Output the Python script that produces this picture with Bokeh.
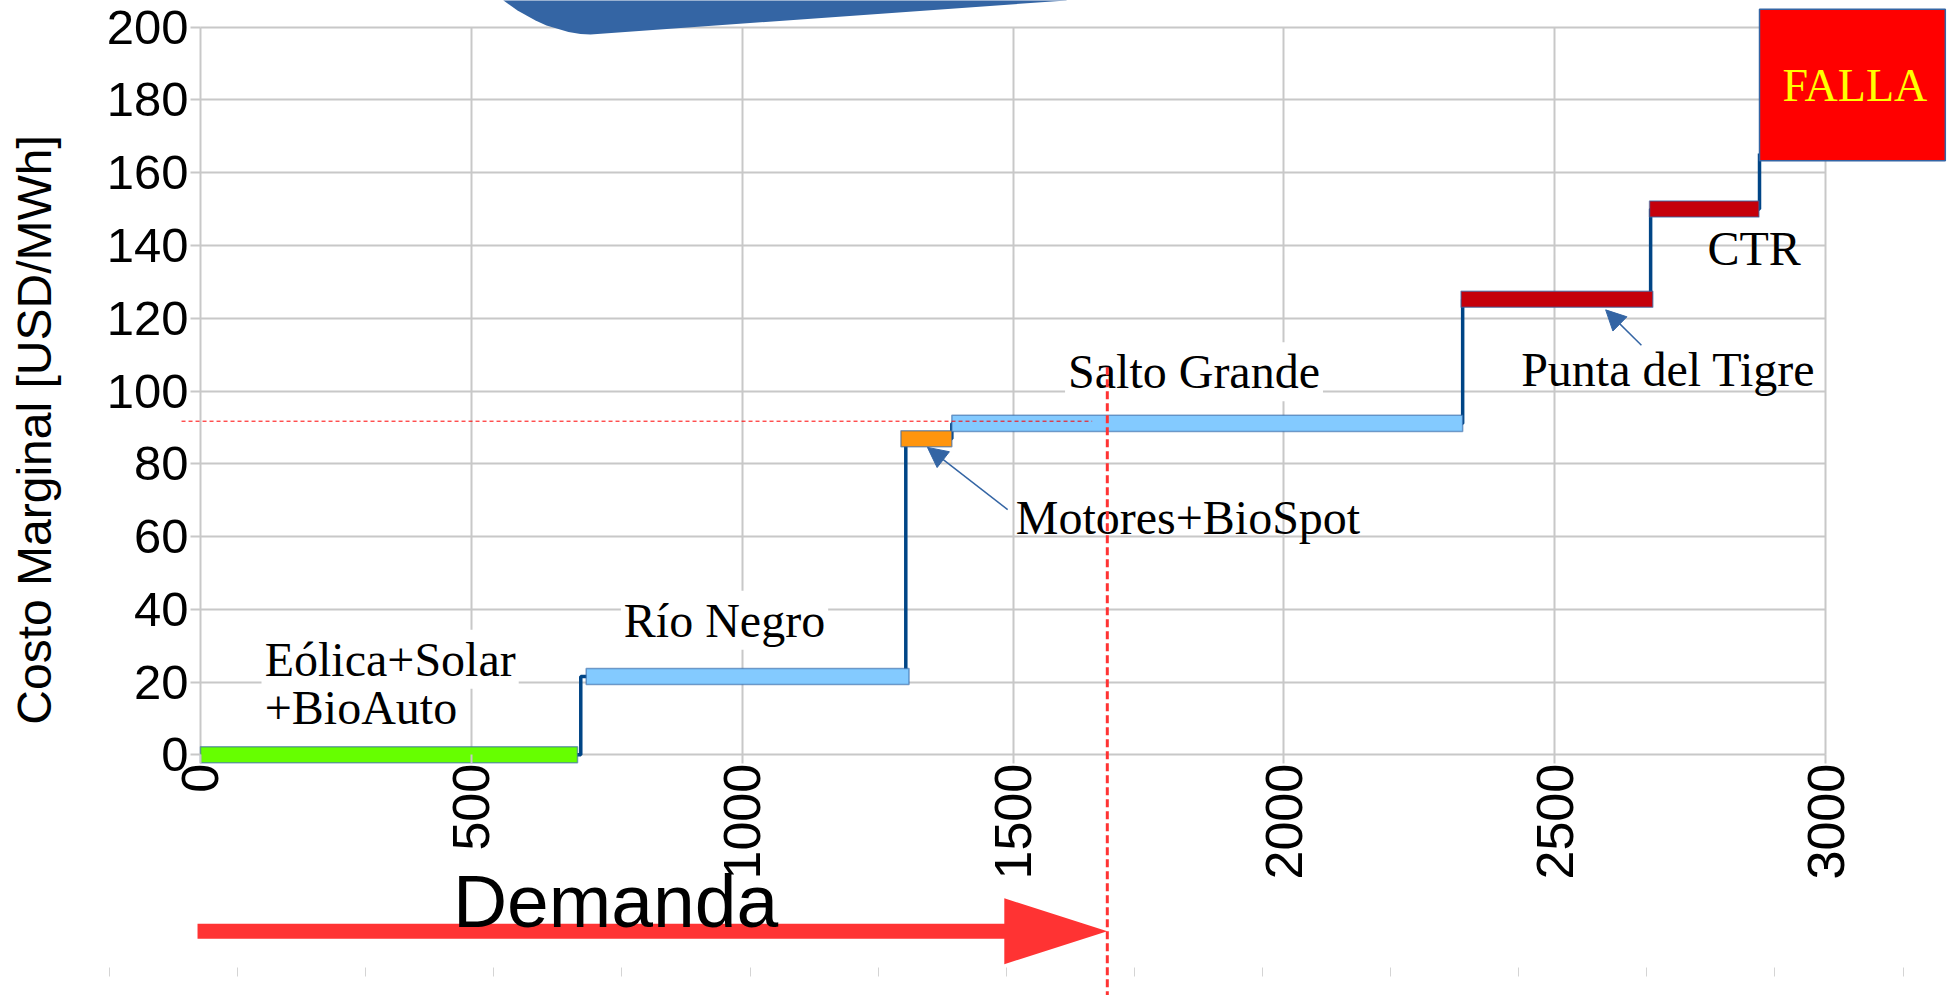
import math
from bokeh.plotting import figure
from bokeh.models import (Range1d, FixedTicker, Label, Arrow, NormalHead,
                          PolyAnnotation, LinearAxis, ColumnDataSource)
from bokeh.embed import file_html
from bokeh.resources import INLINE

# ---------------- data ----------------
bloques = ["Eólica+Solar+BioAuto", "Río Negro", "Motores+BioSpot",
           "Salto Grande", "Punta del Tigre", "CTR"]
mw_inicio = [0, 712, 1293, 1387, 2327, 2675]
mw_fin = [696, 1308, 1387, 2330, 2681, 2877]
costo = [0.0, 21.5, 86.9, 91.1, 125.2, 150.0]
colores = ["#66ff00", "#83caff", "#ff950e", "#83caff", "#c5000b", "#c5000b"]

curva_mw = [0, 702, 1302, 1387, 2330, 2677, 2878]
curva_costo = [0.0, 21.5, 86.9, 91.1, 125.2, 150.0, 165.3]

falla_mw = [2878, 3221]
falla_costo = [163.3, 204.9]

demanda_mw = 1674
costo_marginal = 91.7

x_ticks = [0, 500, 1000, 1500, 2000, 2500, 3000]
y_ticks = [0, 20, 40, 60, 80, 100, 120, 140, 160, 180, 200]

# ---------------- layout constants ----------------
W, H = 1950, 995
PX_MW = 0.5417          # pixels per MW
PX_Y = 3.638            # pixels per USD/MWh
X0 = 200                # canvas x of MW 0
Y0 = 754.3              # canvas y of cost 0
x_start = -X0 / PX_MW
x_end = (W - X0) / PX_MW
y_end = Y0 / PX_Y
y_start = -(H - Y0) / PX_Y

p = figure(width=W, height=H, x_range=Range1d(x_start, x_end),
           y_range=Range1d(y_start, y_end), output_backend="svg",
           toolbar_location=None, min_border=0)
p.outline_line_color = None
p.background_fill_color = "white"
p.border_fill_color = "white"

GRID = "#c8c8c8"

# axes
xa = p.xaxis[0]
xa.fixed_location = 0
xa.ticker = FixedTicker(ticks=x_ticks)
xa.bounds = (0, 3000)
xa.axis_line_color = None
xa.major_tick_out = 9
xa.major_tick_in = 0
xa.minor_tick_out = 0
xa.minor_tick_in = 0
xa.major_tick_line_color = GRID
xa.major_tick_line_width = 2
xa.major_label_orientation = math.pi / 2
xa.major_label_standoff = 0
xa.major_label_text_font = "Liberation Sans"
xa.major_label_text_font_size = "52px"
xa.major_label_text_color = "black"

ya = p.yaxis[0]
ya.fixed_location = 0
ya.ticker = FixedTicker(ticks=y_ticks)
ya.bounds = (0, 200)
ya.axis_line_color = None
ya.major_tick_out = 10
ya.major_tick_in = 0
ya.minor_tick_out = 0
ya.minor_tick_in = 0
ya.major_tick_line_color = GRID
ya.major_tick_line_width = 2
ya.major_label_standoff = 2
ya.major_label_text_font = "Liberation Sans"
ya.major_label_text_font_size = "49px"
ya.major_label_text_color = "black"

# grids
p.xgrid.ticker = FixedTicker(ticks=x_ticks)
p.xgrid.bounds = (0, 3000)
p.xgrid.cross_bounds = (0, 200)
p.xgrid.grid_line_color = GRID
p.xgrid.grid_line_width = 2
p.ygrid.ticker = FixedTicker(ticks=y_ticks)
p.ygrid.bounds = (0, 200)
p.ygrid.cross_bounds = (0, 3000)
p.ygrid.grid_line_color = GRID
p.ygrid.grid_line_width = 2

# faint ruler at the bottom of the slide
ruler = LinearAxis(fixed_location=-58.5,
                   ticker=FixedTicker(ticks=[-168 + 236.5 * k for k in range(15)]),
                   axis_line_color=None, major_tick_out=9, major_tick_in=0,
                   minor_tick_out=0, minor_tick_in=0,
                   major_tick_line_color="#d4d4d4", major_tick_line_width=1,
                   major_label_text_color=None)
p.add_layout(ruler, "below")

# supply curve (step)
p.step(curva_mw, curva_costo, mode="after", line_color="#004586", line_width=3.5)

# blocks
half = 2.2
src = ColumnDataSource(dict(
    left=mw_inicio, right=mw_fin,
    bottom=[c - half for c in costo], top=[c + half for c in costo],
    color=colores, name=bloques))
p.quad(left="left", right="right", bottom="bottom", top="top", source=src,
       fill_color="color", line_color="#3465a4", line_alpha=0.6, line_width=1.5)

# FALLA block
p.quad(left=[falla_mw[0]], right=[falla_mw[1]], bottom=[falla_costo[0]],
       top=[falla_costo[1]], fill_color="#ff0000", line_color="#3465a4", line_width=1.5)

# demand arrow (shape)
shaft = 7.5 / PX_Y
head_h = 33 / PX_Y
head_len = 103 / PX_MW
ay = -48.5
ax0 = -5.5
hb = demanda_mw - head_len
p.patch([ax0, hb, hb, demanda_mw, hb, hb, ax0],
        [ay + shaft, ay + shaft, ay + head_h, ay, ay - head_h, ay - shaft, ay - shaft],
        fill_color="#ff3333", line_color=None)

# decorative blue shape at top (screen units, y measured from bottom)
bx = [503, 503, 510, 517, 526, 535, 546, 557, 568, 580, 590, 1066, 1070]
by_top = [-10, 0, 5, 10, 15, 20, 25, 28.3, 31.5, 33.5, 34, 0, -10]
p.add_layout(PolyAnnotation(xs=bx, ys=[H - v for v in by_top],
                            xs_units="screen", ys_units="screen",
                            fill_color="#3465a4", fill_alpha=1, line_color=None))

SERIF = "Liberation Serif"
SERIF_SHIFT = 14.5 / PX_Y     # baseline correction for the text box

def lab(x, y, t, bg=True, **kw):
    opts = dict(x=x, y=y + SERIF_SHIFT, text=t, text_font=SERIF, text_font_size="48px",
                text_color="black", text_baseline="alphabetic")
    if bg:
        opts.update(background_fill_color="white", padding=3)
    opts.update(kw)
    p.add_layout(Label(**opts))

lab(113, 22.3, "Eólica+Solar")
lab(113, 9.0, "+BioAuto")
lab(776, 33.0, "Río Negro")
lab(1505, 61.2, "Motores+BioSpot", bg=False)
lab(1596, 101.3, "Salto Grande")
lab(2438, 101.8, "Punta del Tigre", bg=False)
lab(2782, 135.2, "CTR", bg=False)
lab(3054, 180.1, "FALLA", bg=False, text_align="center", text_color="#ffff00",
    text_font_size="46px")

# y axis title
p.add_layout(Label(x=34, y=89.3, x_units="screen", text="Costo Marginal [USD/MWh]",
                   angle=math.pi / 2, text_align="center", text_baseline="alphabetic",
                   text_font="Liberation Sans", text_font_size="48px", text_color="black"))

# Demanda text
p.add_layout(Label(x=466, y=-46.5 + 23 / PX_Y, text="Demanda", text_font="Liberation Sans",
                   text_font_size="75px", text_color="black", text_baseline="alphabetic"))

# pointer arrows
for xs_, ys_, xe_, ye_ in [(1490, 67.4, 1342, 84.5), (2660, 112.6, 2594, 122.3)]:
    p.add_layout(Arrow(end=NormalHead(size=20, fill_color="#3465a4", line_color="#3465a4"),
                       x_start=xs_, y_start=ys_, x_end=xe_, y_end=ye_,
                       line_color="#3465a4", line_width=1.5))

# demand lines
p.add_layout(Arrow(end=None, x_start=-35, y_start=costo_marginal, x_end=1646,
                   y_end=costo_marginal, line_color="#ff0000", line_width=1, line_dash="4 3"))
p.add_layout(Arrow(end=None, x_start=demanda_mw, y_start=106.5, x_end=demanda_mw,
                   y_end=y_start, line_color="#ff3333", line_width=3, line_dash="8 4"))

open("out.html", "w").write(file_html(p, INLINE))
